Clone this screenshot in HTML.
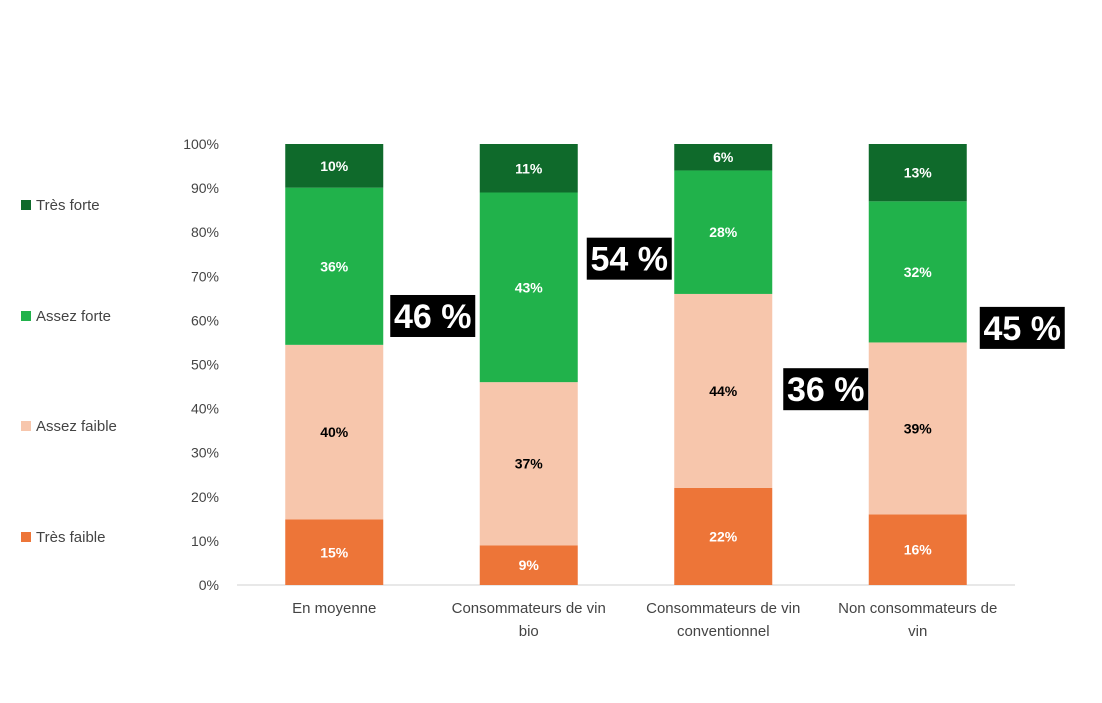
<!DOCTYPE html>
<html><head><meta charset="utf-8"><style>
body{margin:0;background:#fff;}
svg text{font-family:"Liberation Sans",Arial,sans-serif;}
</style></head><body>
<svg id="chart" width="1102" height="698" viewBox="0 0 1102 698" xmlns="http://www.w3.org/2000/svg"></svg>
<script>
const categories=[["En moyenne"],["Consommateurs de vin","bio"],["Consommateurs de vin","conventionnel"],["Non consommateurs de","vin"]];
const seriesNames=["Très faible","Assez faible","Assez forte","Très forte"];
const tresFaible=[15,9,22,16];
const assezFaible=[40,37,44,39];
const assezForte=[36,43,28,32];
const tresForte=[10,11,6,13];
const callouts=["46 %","54 %","36 %","45 %"];
const calloutLevel=[61,74,44.4,58.3];
const yTicks=[0,10,20,30,40,50,60,70,80,90,100];

const colors=["#ED7538","#F7C6AC","#21B24B","#0F6A2B"];
const textColors=["#fff","#000","#fff","#fff"];
const series=[tresFaible,assezFaible,assezForte,tresForte];
const svg=document.getElementById('chart');
const NS="http://www.w3.org/2000/svg";
const y0=585,y1=144,xStart=237,xEnd=1015,band=194.5,barW=98;
const yScale=p=>y0-(y0-y1)*p/100;
const xCenter=i=>xStart+band*(i+0.5);
function el(tag,attrs,txt){const e=document.createElementNS(NS,tag);for(const k in attrs)e.setAttribute(k,attrs[k]);if(txt!==undefined)e.textContent=txt;svg.appendChild(e);return e;}

yTicks.forEach(t=>{
  const e=el('text',{x:219,y:yScale(t)+5,'text-anchor':'end','font-size':14,fill:'#444'},t+'%');
  
  
});
const ax=el('line',{x1:xStart,x2:xEnd,y1:y0,y2:y0,stroke:'#d0d0d0','stroke-width':1});



categories.forEach((c,i)=>{
  const total=series.reduce((s,a)=>s+a[i],0);
  let cum=0;
  const cx=xCenter(i);
  series.forEach((a,k)=>{
    const v=a[i];
    const ya=yScale(cum/total*100), yb=yScale((cum+v)/total*100);
    const r=el('rect',{x:cx-barW/2,y:yb,width:barW,height:ya-yb,fill:colors[k]});
    
    
    const t=el('text',{x:cx,y:(ya+yb)/2+5,'text-anchor':'middle','font-size':14,'font-weight':'bold',fill:textColors[k]},v+'%');
    
    
    cum+=v;
  });
  c.forEach((line,j)=>{
    const t=el('text',{x:cx,y:613+j*23,'text-anchor':'middle','font-size':15,fill:'#444'},line);
    
    
  });
  const cy=yScale(calloutLevel[i]);
  const bx=cx+56+i*2;
  const g=el('rect',{x:bx,y:cy-21,width:85,height:42,fill:'#000'});
  
  
  const ct=el('text',{x:bx+42.5,y:cy+12,'text-anchor':'middle','font-size':34,'font-weight':'bold',fill:'#fff'},callouts[i]);
  
  
});

const legY=[537,426,316,205];
seriesNames.forEach((n,k)=>{
  const r=el('rect',{x:21,y:legY[k]-5,width:10,height:10,fill:colors[k]});
  
  
  const t=el('text',{x:36,y:legY[k]+5,'font-size':15,fill:'#444'},n);
  
  
});
</script>
</body></html>
